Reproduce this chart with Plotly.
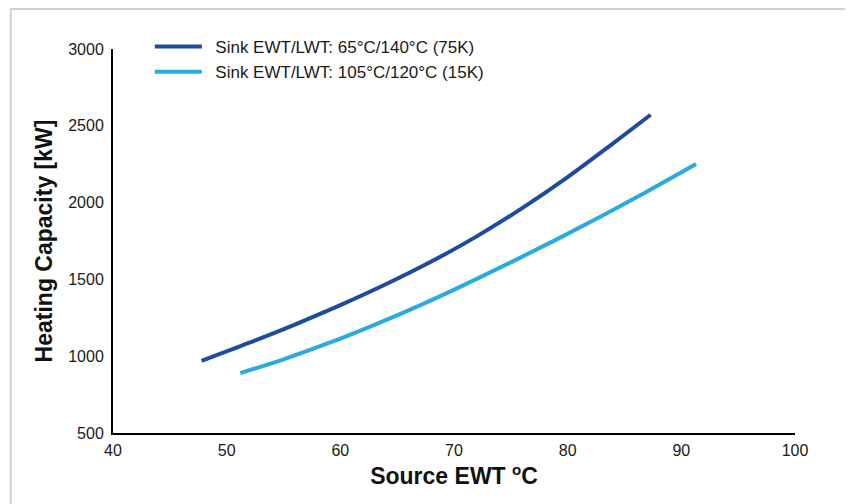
import plotly.graph_objects as go

# Data
dark_x = [47.8, 52, 56, 60, 64, 68, 72, 76, 80, 84, 87.3]
dark_y = [970, 1088, 1206, 1332, 1468, 1616, 1780, 1964, 2166, 2386, 2572]
light_x = [51.2, 55, 59, 63, 67, 71, 75, 79, 83, 87, 91.3]
light_y = [890, 980, 1086, 1204, 1331, 1468, 1611, 1759, 1913, 2073, 2251]

series_names = ["Sink EWT/LWT: 65°C/140°C (75K)", "Sink EWT/LWT: 105°C/120°C (15K)"]
x_ticks = [40, 50, 60, 70, 80, 90, 100]
y_ticks = [500, 1000, 1500, 2000, 2500, 3000]

fig = go.Figure()
fig.add_trace(go.Scatter(x=dark_x, y=dark_y, mode="lines", name="\u2002" + series_names[0],
                         line=dict(color="#1d4c9f", width=4, shape="spline", smoothing=1.0)))
fig.add_trace(go.Scatter(x=light_x, y=light_y, mode="lines", name="\u2002" + series_names[1],
                         line=dict(color="#29abe2", width=4, shape="spline", smoothing=1.0)))

tick_font = dict(family="Liberation Sans, Arial, sans-serif", size=16, color="#1a1a1a")
title_font = dict(family="Liberation Sans, Arial, sans-serif", size=23, color="#111111")

# the page body adds an 8px offset; margins compensate for it
fig.update_layout(
    width=853, height=504,
    margin=dict(l=105, r=66, t=41, b=79),
    paper_bgcolor="white", plot_bgcolor="white",
    showlegend=True,
    legend=dict(x=0.054, y=1.052, xanchor="left", yanchor="top", itemwidth=47,
                font=dict(family="Liberation Sans, Arial, sans-serif", size=17, color="#1a1a1a"),
                bgcolor="rgba(0,0,0,0)", tracegroupgap=0),
    xaxis=dict(range=[40, 100], tickvals=x_ticks, ticktext=[str(v) for v in x_ticks],
               showgrid=False, zeroline=False, showline=True, linecolor="black", linewidth=2,
               ticks="", tickfont=tick_font, ticklabelstandoff=2, automargin=False,
               title=dict(text="<b>Source EWT <sup><span style='font-size:15px'>o</span></sup>C</b>",
                          font=title_font, standoff=10)),
    yaxis=dict(range=[500, 3000], tickvals=y_ticks, ticktext=[str(v) for v in y_ticks],
               showgrid=False, zeroline=False, showline=True, linecolor="black", linewidth=2,
               ticks="", tickfont=tick_font, ticklabelstandoff=4, automargin=False,
               title=dict(text="<b>Heating Capacity [kW]</b>", font=title_font, standoff=9)),
    shapes=[dict(type="rect", xref="paper", yref="paper", x0=-0.150, x1=1.3, y0=-0.4, y1=1.104,
                 line=dict(color="#d0d0d0", width=2), fillcolor="rgba(0,0,0,0)", layer="below")],
)

fig.write_html("out.html")
